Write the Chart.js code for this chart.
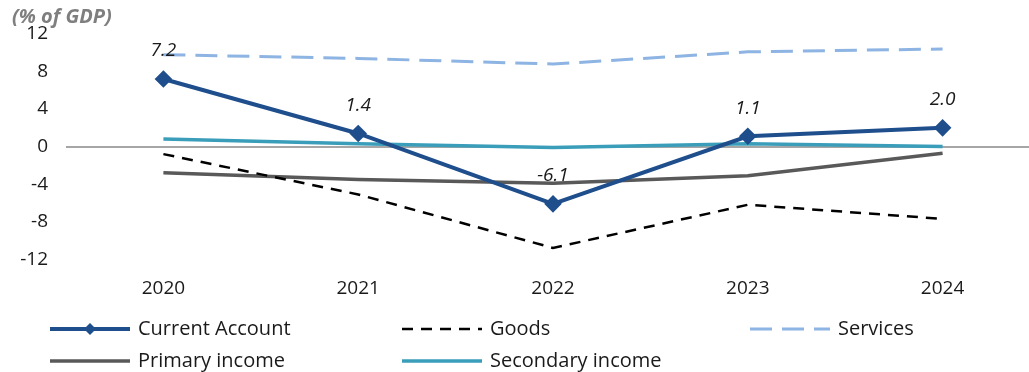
<!DOCTYPE html>
<html>
<head>
<meta charset="utf-8">
<script src="https://cdn.jsdelivr.net/npm/chart.js@4/dist/chart.umd.min.js"></script>
<style>
  html, body { margin: 0; padding: 0; background: #fff; overflow: hidden; }
  #wrap { position: relative; width: 1050px; height: 372px; }
</style>
</head>
<body>
<div id="wrap"><canvas id="balance"></canvas></div>
<script>
const years = ["2020", "2021", "2022", "2023", "2024"];
const currentAccount = [7.2, 1.4, -6.1, 1.1, 2.0];
const goods = [-0.8, -5.1, -10.8, -6.2, -7.7];
const services = [9.8, 9.4, 8.8, 10.1, 10.4];
const primaryIncome = [-2.8, -3.5, -3.9, -3.1, -0.7];
const secondaryIncome = [0.8, 0.3, -0.1, 0.3, 0.0];
const yTicks = [-12, -8, -4, 0, 4, 8, 12];

const FONT = "'Open Sans', 'Noto Sans', sans-serif";

// value labels above the current account markers
const valueLabels = {
    id: "valueLabels",
    afterDatasetsDraw(chart) {
        const meta = chart.getDatasetMeta(0);
        const ctx = chart.ctx;
        ctx.save();
        ctx.font = "italic 19px " + FONT;
        ctx.fillStyle = "#1a1a1a";
        ctx.textAlign = "center";
        ctx.textBaseline = "middle";
        meta.data.forEach((pt, i) => {
            ctx.fillText(currentAccount[i].toFixed(1), pt.x, pt.y - 28);
        });
        ctx.restore();
    }
};

// legend laid out as a fixed 3-column grid
const gridLegend = {
    id: "gridLegend",
    afterDraw(chart) {
        const ctx = chart.ctx;
        const cols = [50, 402, 750];
        const rows = [329, 361];
        const lineLen = 80;
        ctx.save();
        ctx.font = "20px " + FONT;
        ctx.textBaseline = "middle";
        chart.data.datasets.forEach((ds, i) => {
            const x = cols[i % 3];
            const y = rows[Math.floor(i / 3)];
            ctx.strokeStyle = ds.borderColor;
            ctx.lineWidth = ds.borderWidth;
            ctx.setLineDash(ds.borderDash || []);
            ctx.beginPath();
            ctx.moveTo(x, y);
            ctx.lineTo(x + lineLen, y);
            ctx.stroke();
            ctx.setLineDash([]);
            if (ds.pointRadius > 0) {
                const cx = x + lineLen / 2, r = 6;
                ctx.fillStyle = ds.borderColor;
                ctx.beginPath();
                ctx.moveTo(cx, y - r);
                ctx.lineTo(cx + r, y);
                ctx.lineTo(cx, y + r);
                ctx.lineTo(cx - r, y);
                ctx.closePath();
                ctx.fill();
            }
            ctx.fillStyle = "#1a1a1a";
            ctx.fillText(ds.label, x + lineLen + 8, y);
        });
        ctx.restore();
    }
};

const lineSet = (label, data, color, extra = {}) => ({
    label,
    data,
    borderColor: color,
    backgroundColor: color,
    borderWidth: 3.5,
    pointRadius: 0,
    tension: 0,
    fill: false,
    ...extra,
});

new Chart(document.getElementById("balance"), {
    type: "line",
    data: {
        labels: years,
        datasets: [
            lineSet("Current Account", currentAccount, "#1F4E8C", {
                borderWidth: 4,
                pointRadius: 6,
                pointStyle: "rectRot",
                pointBackgroundColor: "#1F4E8C",
            }),
            lineSet("Goods", goods, "#000000", { borderWidth: 2.5, borderDash: [11, 8] }),
            lineSet("Services", services, "#8DB4E2", { borderWidth: 3, borderDash: [22, 10] }),
            lineSet("Primary income", primaryIncome, "#595959"),
            lineSet("Secondary income", secondaryIncome, "#3A9EBA"),
        ]
    },
    options: {
        responsive: true,
        maintainAspectRatio: false,
        animation: false,
        layout: { padding: { left: 12, right: 10, top: 0, bottom: 54 } },
        plugins: {
            legend: { display: false },
            tooltip: { enabled: false },
            title: {
                display: true,
                text: "(% of GDP)",
                align: "start",
                color: "#7F7F7F",
                font: { family: FONT, size: 20, style: "italic", weight: "bold" },
                padding: { top: 5, bottom: 5 },
            },
        },
        scales: {
            x: {
                offset: true,
                grid: { display: false, drawTicks: false, offset: true },
                border: { display: false },
                ticks: {
                    color: "#1a1a1a",
                    padding: 18,
                    font: { family: FONT, size: 19 },
                },
            },
            y: {
                min: -12,
                max: 12,
                afterFit: (scale) => { scale.width = 54; },
                afterBuildTicks: (scale) => { scale.ticks = yTicks.map(v => ({ value: v })); },
                grid: {
                    drawTicks: false,
                    lineWidth: 2,
                    color: (c) => (c.tick && c.tick.value === 0 ? "#A6A6A6" : "rgba(0,0,0,0)"),
                },
                border: { display: false },
                ticks: {
                    color: "#1a1a1a",
                    padding: 18,
                    font: { family: FONT, size: 19 },
                },
            },
        },
    },
    plugins: [valueLabels, gridLegend],
});
</script>
</body>
</html>
